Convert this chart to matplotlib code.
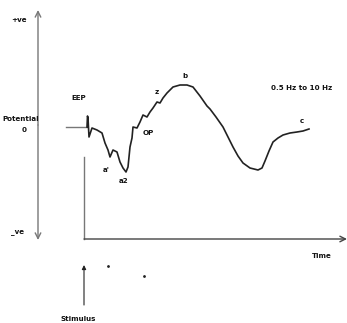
import matplotlib
matplotlib.use("Agg")
import matplotlib.pyplot as plt

# Evoked potential sketch (pixel-like units: x to the right, y downward)
time_x = [87, 87.5, 88, 89, 92, 97, 102, 105, 108, 110, 113, 117, 120, 123, 126, 128,
          130, 132, 133, 137, 140, 143, 147, 150, 153, 157, 160, 163, 167, 173, 180,
          187, 193, 200, 207, 210, 216, 223, 228, 233, 238, 243, 250, 258, 262, 265,
          269, 273, 278, 283, 290, 297, 303, 309]
potential_y = [127, 116, 118, 137, 128, 130, 133, 143, 150, 157, 150, 152, 162, 168, 172, 167,
               147, 138, 127, 128, 122, 115, 117, 112, 108, 102, 103, 98, 93, 87, 85,
               85, 87, 96, 106, 109, 117, 127, 137, 147, 156, 163, 168, 170, 168, 161,
               151, 142, 138, 135, 133, 132, 131, 129]

labels = ["EEP", "a'", "a2", "OP", "z", "b", "c"]
label_x = [79, 106, 124, 148, 157, 185, 302]
label_y = [98, 170, 181, 133, 92, 76, 121]

fig = plt.figure(figsize=(3.47, 3.23), dpi=100)
ax = fig.add_axes([0, 0, 1, 1])
ax.set_xlim(0, 347)
ax.set_ylim(323, 0)
ax.axis("off")

grey = "#777777"
dark = "#222222"

# Potential axis (double arrow)
ax.annotate("", xy=(38, 10), xytext=(38, 125),
            arrowprops=dict(arrowstyle="->", color=grey, lw=1.0, shrinkA=0, shrinkB=0))
ax.annotate("", xy=(38, 240), xytext=(38, 125),
            arrowprops=dict(arrowstyle="->", color=grey, lw=1.0, shrinkA=0, shrinkB=0))

# Baseline lead-in
ax.plot([66, 87], [127, 127], color=grey, lw=1.0)

# Inner axes (time)
ax.plot([84, 84], [157, 239], color=grey, lw=1.0)
ax.annotate("", xy=(347, 239), xytext=(84, 239),
            arrowprops=dict(arrowstyle="->", color="#444444", lw=1.0, shrinkA=0, shrinkB=0))

# Stimulus arrow
ax.annotate("", xy=(84, 265), xytext=(84, 305),
            arrowprops=dict(arrowstyle="-|>", color=dark, lw=0.8, shrinkA=0, shrinkB=0,
                            mutation_scale=6))
ax.plot([108, 144], [266, 276], ls="none", marker="o", ms=1, color=dark)

# Curve
ax.plot(time_x, potential_y, color=dark, lw=1.2)

tkw = dict(fontsize=5.1, fontweight="bold", color="#111111", ha="center", va="center",
           family="DejaVu Sans")
for t, x, y in zip(labels, label_x, label_y):
    ax.text(x, y, t, **tkw)

ax.text(19, 20, "+ve", **tkw)
ax.text(21, 119, "Potential", **tkw)
ax.text(24, 130, "0", **tkw)
ax.text(18, 232, "_ve", **tkw)
ax.text(302, 88, "0.5 Hz to 10 Hz", **tkw)
ax.text(322, 256, "Time", **tkw)
ax.text(78, 319, "Stimulus", **tkw)

fig.savefig("out.png", dpi=100)
